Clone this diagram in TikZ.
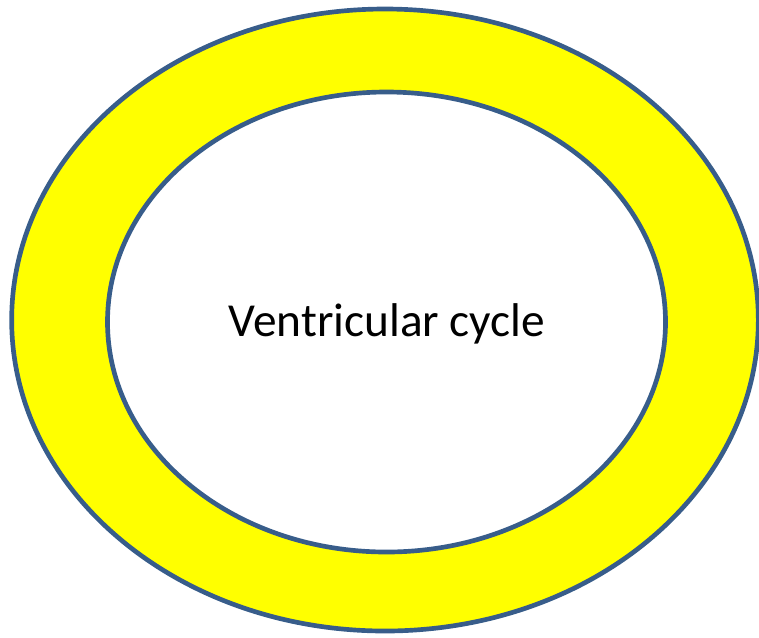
\documentclass[tikz,border=0pt]{standalone}
\usepackage{fontspec}
\setmainfont{Carlito}
\usepackage{xcolor}
\usepackage{tikz}
\usetikzlibrary{shapes}
\usetikzlibrary{positioning}
\definecolor{ringblue}{HTML}{385D8A}
\definecolor{ringyellow}{HTML}{FFFF00}
\tikzset{ring/.style={draw=ringblue, line width=3.5pt, ellipse, inner sep=0pt}}

\begin{document}
\begin{tikzpicture}[x=0.75pt, y=-0.75pt]
        \useasboundingbox (0, 0) rectangle (759, 637);

        % Rings
        \node[ring, fill=ringyellow, minimum width=560pt, minimum height=466.5pt] (outer) at (385, 320) {};
        \node[ring, fill=white, minimum width=418.5pt, minimum height=345pt] (inner) at (386.5, 322) {};

        % Label
        \node[font=\fontsize{35.5}{42}\selectfont] (cycle) at (387, 324) {Ventricular cycle};
    \end{tikzpicture}
\end{document}
